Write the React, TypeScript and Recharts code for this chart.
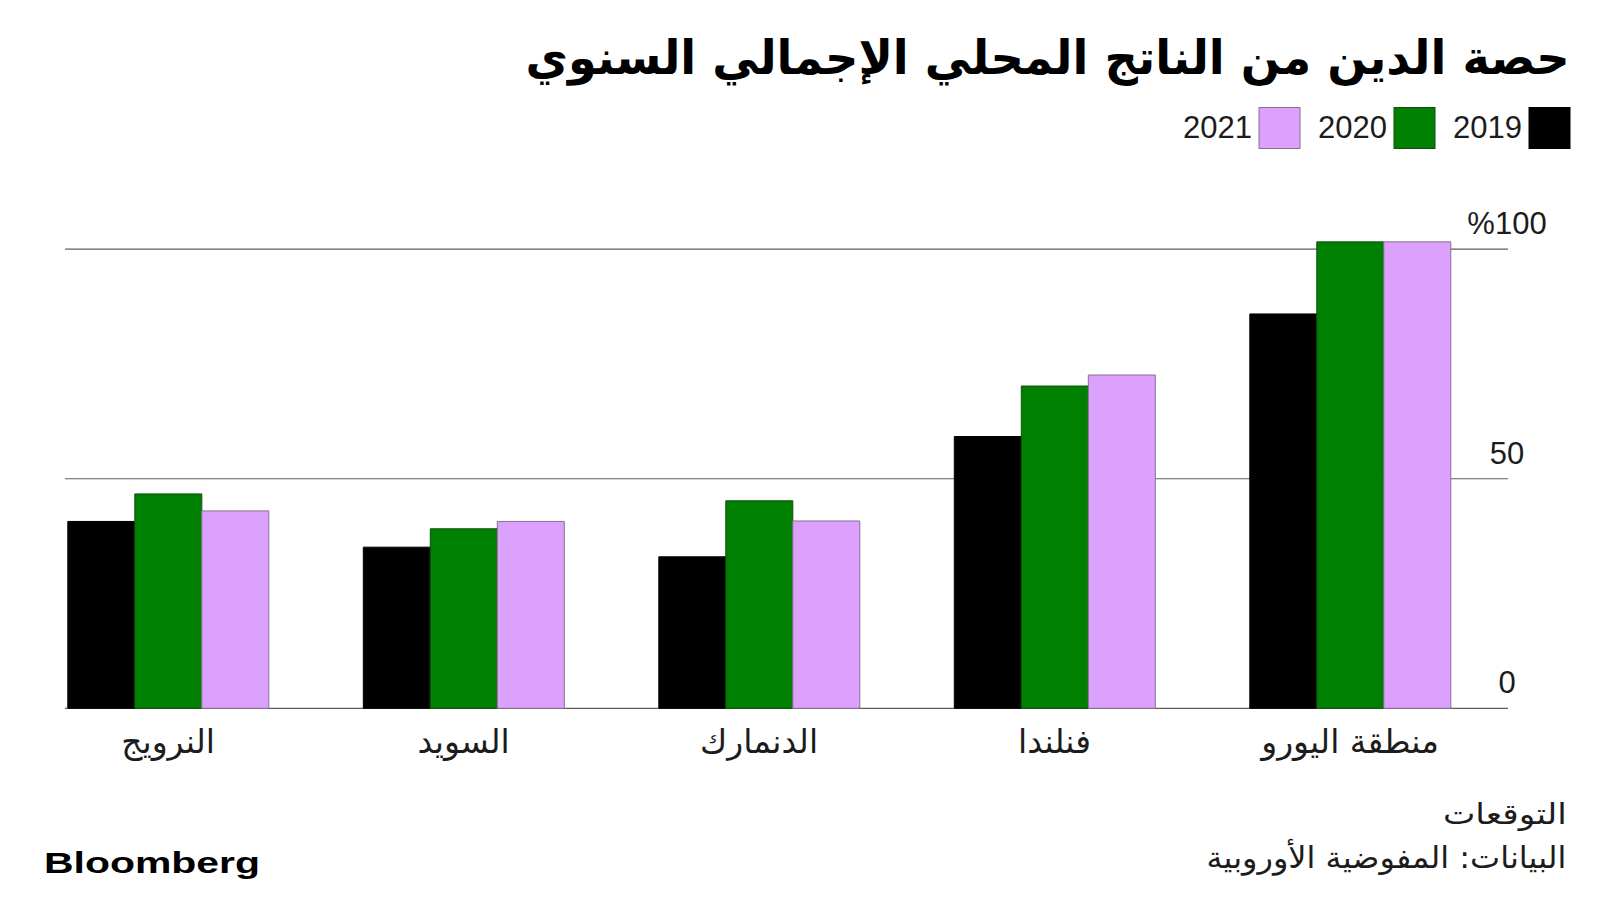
import { Bar, BarChart, CartesianGrid, XAxis, YAxis } from "recharts";

const countries = ["النرويج", "السويد", "الدنمارك", "فنلندا", "منطقة اليورو"];
const years = ["2019", "2020", "2021"];
const debt2019 = [40.7, 35.1, 33.0, 59.2, 85.9];
const debt2020 = [46.7, 39.1, 45.2, 70.2, 101.6];
const debt2021 = [43.0, 40.7, 40.8, 72.6, 101.6];
const yTicks = [0, 50, 100];
const yTickLabels = ["0", "50", "%100"];
const yDomain = [0, 110];

const title = "حصة الدين من الناتج المحلي الإجمالي السنوي";
const note = "التوقعات";
const source = "البيانات: المفوضية الأوروبية";

const fills = ["#000000", "#008000", "#dba1fc"];
const strokes = ["#000000", "#0d4f0d", "#86708f"];
const arabic = "'DejaVu Sans', sans-serif";
const latin = "'Liberation Sans', Arial, sans-serif";
const ink = "#1c1c1c";

const rows = countries.map((name, i) => ({
  name,
  [years[0]]: debt2019[i],
  [years[1]]: debt2020[i],
  [years[2]]: debt2021[i],
}));

function CountryTick({ x, y, payload }: any) {
  return (
    <text x={x} y={y + 37} textAnchor="middle" fontSize={33} fontFamily={arabic} fill={ink}>
      {payload.value}
    </text>
  );
}

function ValueTick({ y, payload }: any) {
  const label = yTickLabels[yTicks.indexOf(payload.value)];
  return (
    <text x={1507} y={y - 15} textAnchor="middle" fontSize={31} fontFamily={latin} fill={ink}>
      {label}
    </text>
  );
}

// grid only at the labelled ticks, not at the top edge of the plot
const gridRows = (props: any) => {
  const s = props?.yAxis?.scale;
  if (typeof s === "function") return yTicks.map((v) => s(v));
  const off = props?.offset;
  if (off && typeof off.top === "number") {
    const [d0, d1] = yDomain;
    return yTicks.map((v) => off.top + off.height * (1 - (v - d0) / (d1 - d0)));
  }
  return [];
};

export default function App() {
  return (
    <div style={{ position: "fixed", left: 0, top: 0, width: 1600, height: 900, background: "#fff" }}>
      <BarChart
        width={1600}
        height={900}
        data={rows}
        margin={{ top: 203.3, right: 42.2, left: 20.3, bottom: 131.7 }}
        barCategoryGap={47.5}
        barGap={0}
      >
        <CartesianGrid
          vertical={false}
          x={65}
          width={1443}
          stroke="#5e5e5e"
          strokeWidth={1.2}
          horizontalCoordinatesGenerator={gridRows}
        />
        <XAxis dataKey="name" axisLine={false} tickLine={false} height={60} tick={<CountryTick />} interval={0} />
        <YAxis
          orientation="right"
          domain={yDomain}
          ticks={yTicks}
          axisLine={false}
          tickLine={false}
          width={60}
          tick={<ValueTick />}
        />
        {years.map((yr, i) => (
          <Bar key={yr} dataKey={yr} fill={fills[i]} stroke={strokes[i]} strokeWidth={1} isAnimationActive={false} />
        ))}
      </BarChart>
      <svg width={1600} height={900} style={{ position: "absolute", left: 0, top: 0, pointerEvents: "none" }}>
        <text
          x={1047.5}
          y={73.5}
          textAnchor="middle"
          fontSize={47}
          fontWeight="bold"
          fontFamily={arabic}
          fill="#000"
          textLength={1044}
          lengthAdjust="spacingAndGlyphs"
        >
          {title}
        </text>
        {years.map((yr, i) => {
          const sx = 1529 - i * 135;
          return (
            <g key={yr}>
              <rect x={sx} y={107.5} width={41} height={41} fill={fills[i]} stroke={strokes[i]} strokeWidth={1} />
              <text x={sx - 7} y={138} textAnchor="end" fontSize={31} fontFamily={latin} fill={ink}>
                {yr}
              </text>
            </g>
          );
        })}
        <text x={1504.9} y={824} textAnchor="middle" fontSize={29} fontFamily={arabic} fill={ink} textLength={124} lengthAdjust="spacingAndGlyphs">
          {note}
        </text>
        <text x={1386.4} y={868} textAnchor="middle" fontSize={30} fontFamily={arabic} fill={ink} textLength={360} lengthAdjust="spacingAndGlyphs">
          {source}
        </text>
        <text x={44} y={873.3} fontSize={30} fontWeight="bold" fontFamily={latin} fill="#000" textLength={216} lengthAdjust="spacingAndGlyphs">
          Bloomberg
        </text>
      </svg>
    </div>
  );
}
